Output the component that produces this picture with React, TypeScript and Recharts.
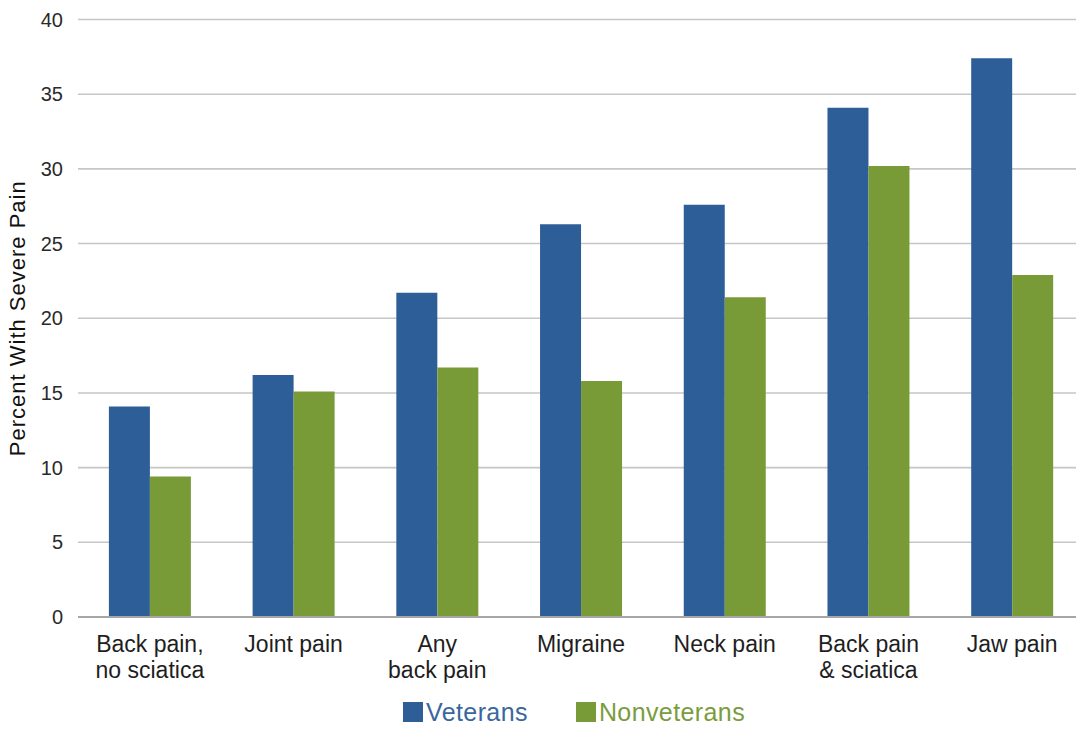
import React from "react";
import { BarChart, Bar, XAxis, YAxis, CartesianGrid, Legend } from "recharts";

// Pain categories (line breaks mark the two-line axis labels)
const categories = [
  "Back pain,\nno sciatica",
  "Joint pain",
  "Any\nback pain",
  "Migraine",
  "Neck pain",
  "Back pain\n& sciatica",
  "Jaw pain",
];

// Percent reporting severe pain
const veterans = [14.1, 16.2, 21.7, 26.3, 27.6, 34.1, 37.4];
const nonveterans = [9.4, 15.1, 16.7, 15.8, 21.4, 30.2, 22.9];

const yTicks = [0, 5, 10, 15, 20, 25, 30, 35, 40];

const seriesOrder = ["Veterans", "Nonveterans"];

const BLUE = "#2E5E97";
const GREEN = "#789B38";
const FONT = '"Liberation Sans", Arial, Helvetica, sans-serif';

const data = categories.map((c, i) => ({
  category: c,
  veterans: veterans[i],
  nonveterans: nonveterans[i],
}));

const CategoryTick = (props: any) => {
  const { x, y, payload } = props;
  const lines = String(payload.value).split("\n");
  return (
    <g transform={`translate(${x},${y})`}>
      <text
        textAnchor="middle"
        fill="#1e1e1e"
        fontSize={23}
        fontFamily={FONT}
      >
        {lines.map((line, i) => (
          <tspan key={i} x={0} y={33 + i * 26}>
            {line}
          </tspan>
        ))}
      </text>
    </g>
  );
};

const legendColors: Record<string, string> = {
  Veterans: "#3A679E",
  Nonveterans: "#7A9C3E",
};

const LegendContent = (props: any) => {
  const items = [...(props.payload || [])].sort(
    (a: any, b: any) => seriesOrder.indexOf(a.value) - seriesOrder.indexOf(b.value)
  );
  return (
    <div
      style={{
        display: "flex",
        alignItems: "center",
        paddingLeft: 403,
        paddingTop: 10,
        height: 30,
        fontFamily: FONT,
      }}
    >
      {items.map((item: any, i: number) => (
        <div
          key={item.value}
          style={{
            display: "flex",
            alignItems: "center",
            marginRight: i === 0 ? 48 : 0,
          }}
        >
          <div
            style={{
              width: 20,
              height: 20,
              background: item.color,
              marginRight: 3,
            }}
          />
          <span
            style={{
              fontSize: 25,
              lineHeight: "30px",
              letterSpacing: 0.4,
              color: legendColors[item.value] || item.color,
            }}
          >
            {item.value}
          </span>
        </div>
      ))}
    </div>
  );
};

export default function App() {
  return (
    <div
      style={{
        position: "fixed",
        left: 0,
        top: 0,
        width: 1076,
        height: 729,
        overflow: "hidden",
        background: "#ffffff",
        fontFamily: FONT,
      }}
    >
      <BarChart
        width={1100}
        height={729}
        data={data}
        margin={{ top: 19.5, right: 16, left: 0, bottom: 0 }}
        barCategoryGap="21.5%"
        barGap={0}
      >
        <CartesianGrid
          vertical={false}
          stroke="#c6c6c6"
          strokeWidth={1.6}
        />
        <XAxis
          dataKey="category"
          interval={0}
          height={70}
          tick={<CategoryTick />}
          tickLine={false}
          tickSize={0}
          axisLine={{ stroke: "#a6a6a6", strokeWidth: 2 }}
        />
        <YAxis
          width={78}
          domain={[0, 40]}
          ticks={yTicks}
          interval={0}
          axisLine={false}
          tickLine={false}
          tickSize={0}
          tickMargin={15}
          tick={{ fill: "#2a2a2a", fontSize: 20, fontFamily: FONT }}
          label={{
            value: "Percent With Severe Pain",
            angle: -90,
            position: "insideLeft",
            dx: 12,
            style: {
              textAnchor: "middle",
              fill: "#111111",
              fontSize: 22,
              letterSpacing: 1,
              fontFamily: FONT,
            },
          }}
        />
        <Legend
          verticalAlign="bottom"
          content={<LegendContent />}
          wrapperStyle={{ left: 0, bottom: 0, width: 1100, height: 42 }}
        />
        <Bar
          dataKey="veterans"
          name="Veterans"
          fill={BLUE}
          isAnimationActive={false}
        />
        <Bar
          dataKey="nonveterans"
          name="Nonveterans"
          fill={GREEN}
          isAnimationActive={false}
        />
      </BarChart>
    </div>
  );
}
